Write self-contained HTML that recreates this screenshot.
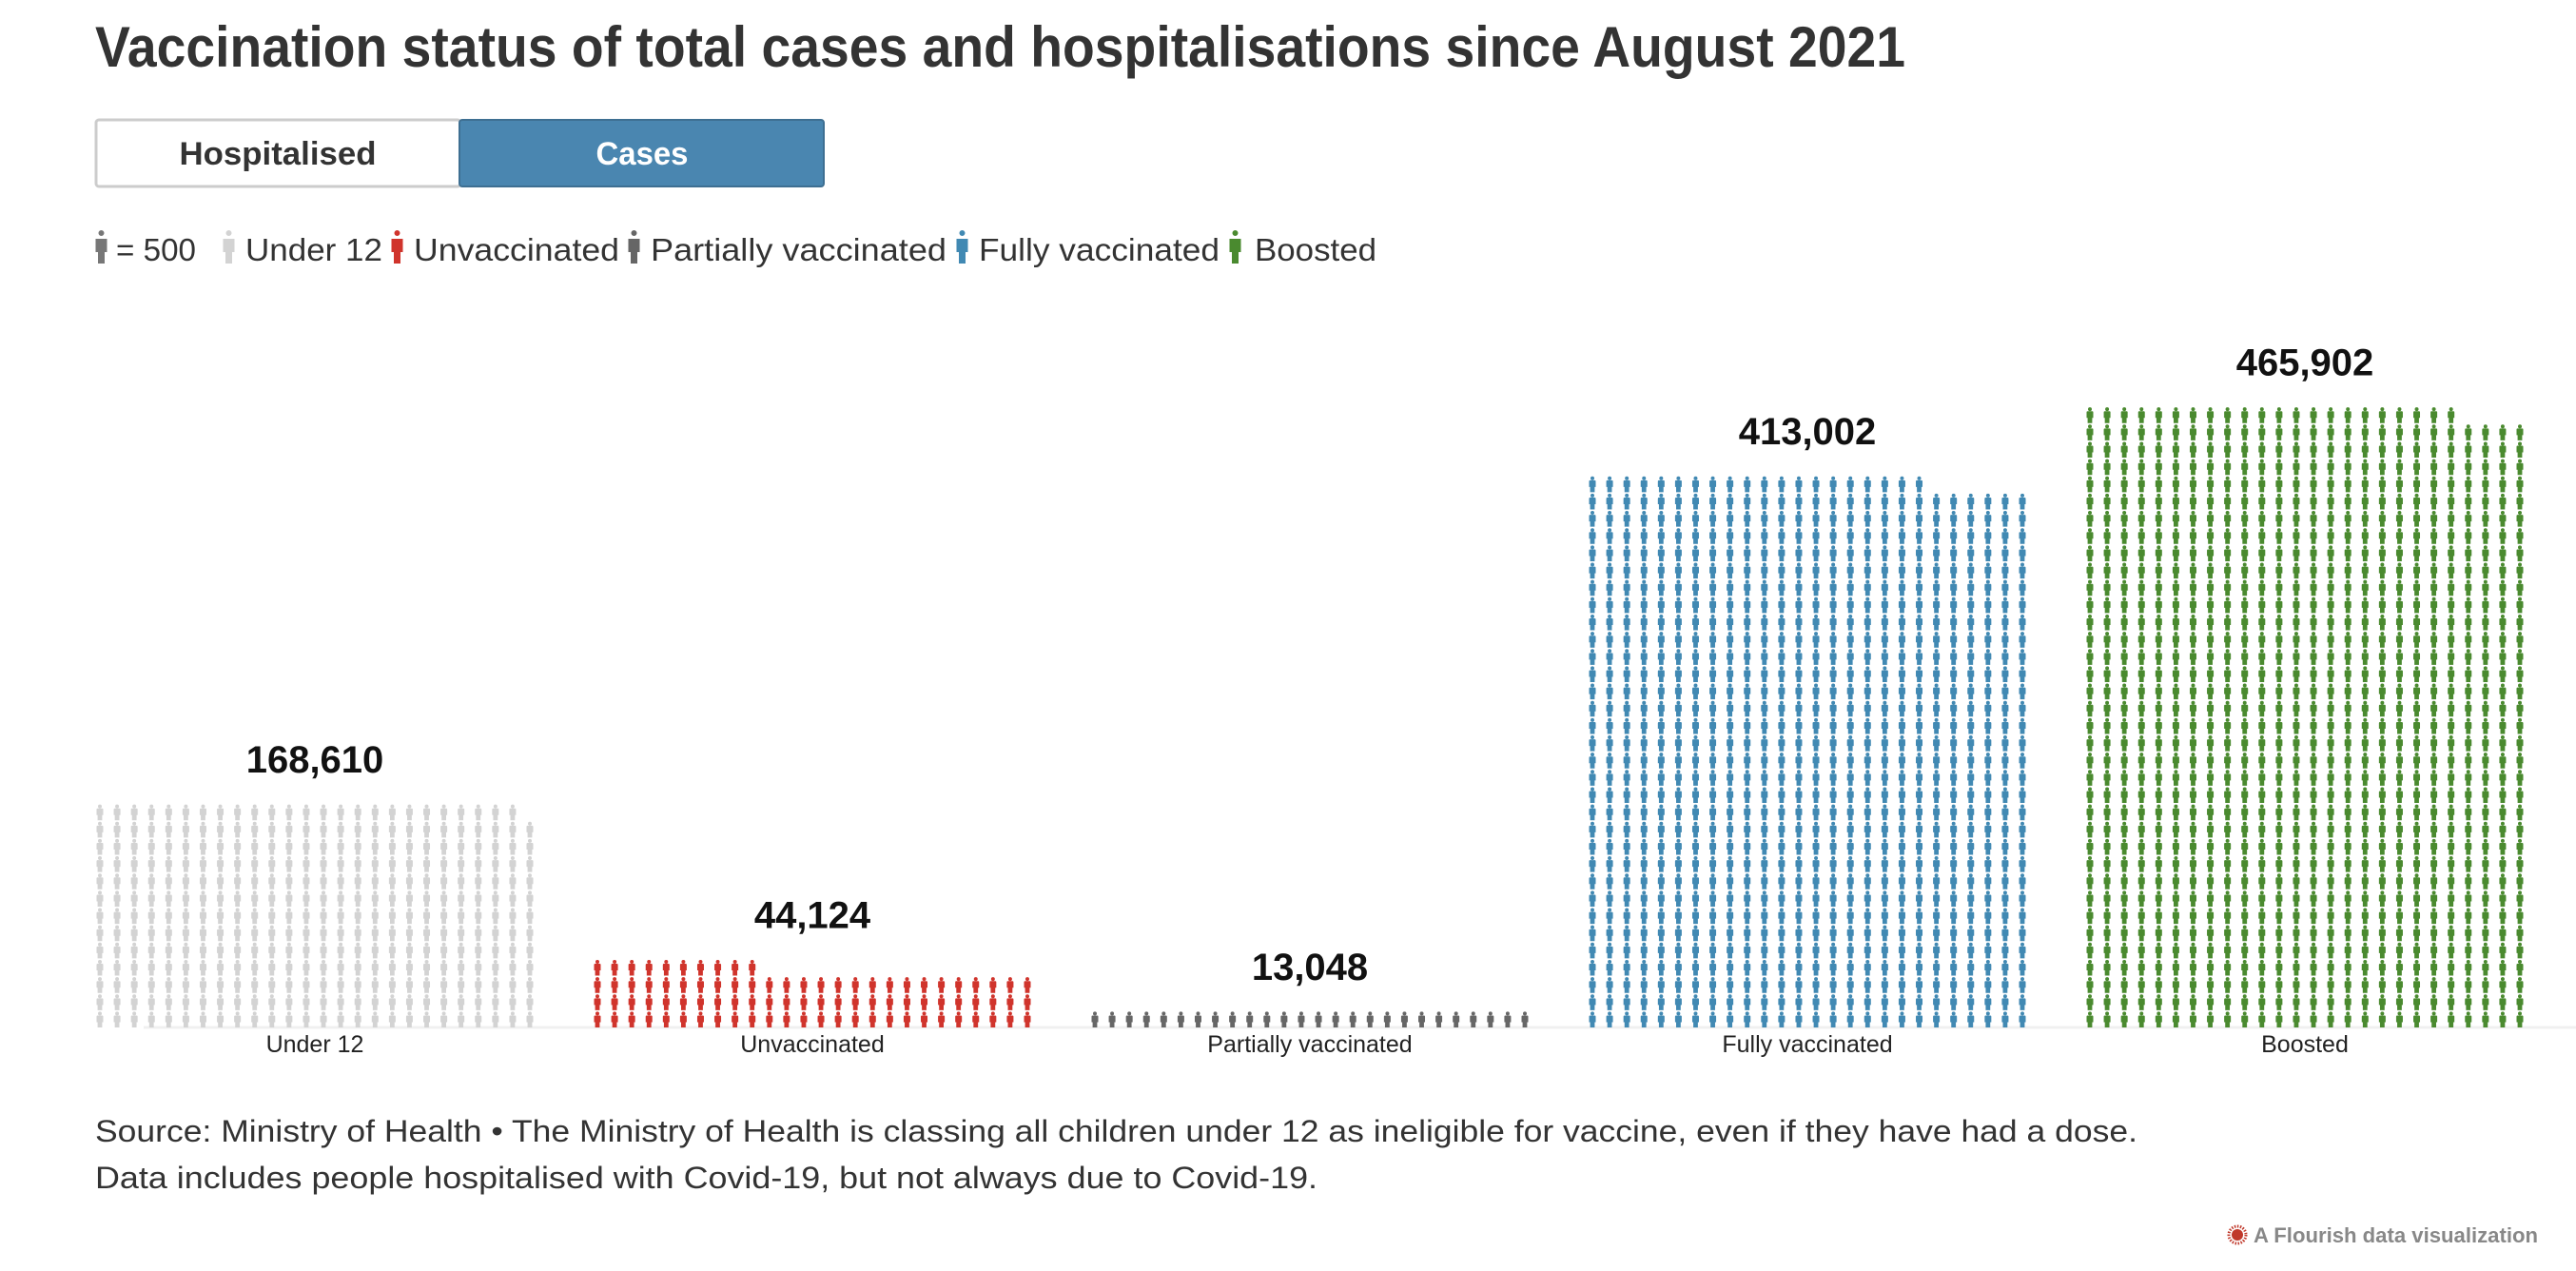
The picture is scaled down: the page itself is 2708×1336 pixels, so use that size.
<!DOCTYPE html>
<html><head><meta charset="utf-8"><style>
html,body{margin:0;padding:0;background:#fff;}
svg{display:block;font-family:"Liberation Sans",sans-serif;}
</style></head><body>
<svg id="chart" width="2708" height="1336" viewBox="0 0 2708 1336" xmlns="http://www.w3.org/2000/svg">
<text x="100" y="70" font-size="60" font-weight="bold" fill="#333" textLength="1903" lengthAdjust="spacingAndGlyphs">Vaccination status of total cases and hospitalisations since August 2021</text>
<g>
<rect x="101" y="126" width="383" height="70" rx="3" fill="#fff" stroke="#ccc" stroke-width="3"/>
<text x="292" y="173" font-size="34" font-weight="bold" fill="#333" text-anchor="middle" textLength="207" lengthAdjust="spacingAndGlyphs">Hospitalised</text>
</g>
<g>
<rect x="483" y="126" width="383" height="70" rx="3" fill="#4a86b0" stroke="#3e6f92" stroke-width="2"/>
<text x="675" y="173" font-size="34" font-weight="bold" fill="#fff" text-anchor="middle" textLength="97" lengthAdjust="spacingAndGlyphs">Cases</text>
</g>
<g id="legend"></g>
<line x1="151" y1="1080" x2="2708" y2="1080" stroke="#f0f0f0" stroke-width="3"/>
<g id="bars"></g>
<text x="100" y="1200" font-size="32" fill="#333" textLength="2147" lengthAdjust="spacingAndGlyphs">Source: Ministry of Health • The Ministry of Health is classing all children under 12 as ineligible for vaccine, even if they have had a dose.</text>
<text x="100" y="1249" font-size="32" fill="#333" textLength="1285" lengthAdjust="spacingAndGlyphs">Data includes people hospitalised with Covid-19, but not always due to Covid-19.</text>
<g>
<circle cx="2352" cy="1298" r="6" fill="#c0392b"/>
<circle cx="2352" cy="1298" r="9" fill="none" stroke="#c0392b" stroke-width="3" stroke-dasharray="1.5 1.5"/>
<text x="2369" y="1306" font-size="22" font-weight="bold" fill="#888" textLength="299" lengthAdjust="spacingAndGlyphs">A Flourish data visualization</text>
</g>
</svg>
<script>
const categories = ["Under 12","Unvaccinated","Partially vaccinated","Fully vaccinated","Boosted"];
const values = [168610, 44124, 13048, 413002, 465902];
const valueLabels = ["168,610","44,124","13,048","413,002","465,902"];
const colors = ["#d3d3d3","#d0342c","#666666","#4189b3","#4a8a2f"];
const perIcon = 500;

const NS = "http://www.w3.org/2000/svg";
const cols = 26, colGap = 18.08, rowH = 18.15, baseY = 1080;
const groupX = i => 105 + i * 523;
const rowY = r => baseY - r * rowH;

function iconPath(cx, b){
  return `M${cx-2.4},${b} v-5.5 h-1.1 v-6 q0,-1 1,-1 h5 q1,0 1,1 v6 h-1.1 v5.5 z`;
}
const bars = document.getElementById('bars');
categories.forEach((c, i) => {
  const n = Math.round(values[i] / perIcon);
  const g = document.createElementNS(NS, 'g');
  
  
  let d = "";
  for (let k = 0; k < n; k++) {
    const r = Math.floor(k / cols), col = k % cols;
    const cx = groupX(i) + col * colGap, b = rowY(r);
    d += iconPath(cx, b);
    d += `M${cx+2},${b-14.6} a2,2 0 1,0 -4,0 a2,2 0 1,0 4,0 z`;
  }
  const p = document.createElementNS(NS, 'path');
  p.setAttribute('d', d);
  p.setAttribute('fill', colors[i]);
  g.appendChild(p);
  bars.appendChild(g);
  const rows = Math.ceil(n / cols);
  const cxm = groupX(i) + (cols - 1) * colGap / 2;
  const t = document.createElementNS(NS, 'text');
  
  
  t.setAttribute('x', cxm);
  t.setAttribute('y', rowY(rows) - 32);
  t.setAttribute('text-anchor', 'middle');
  t.setAttribute('font-size', '40');
  t.setAttribute('font-weight', 'bold');
  t.setAttribute('fill', '#111');
  t.textContent = valueLabels[i];
  bars.appendChild(t);
  const l = document.createElementNS(NS, 'text');
  
  
  l.setAttribute('x', cxm);
  l.setAttribute('y', 1106);
  l.setAttribute('text-anchor', 'middle');
  l.setAttribute('font-size', '25');
  l.setAttribute('fill', '#222');
  l.textContent = c;
  bars.appendChild(l);
});

// legend
const legend = document.getElementById('legend');
const legItems = [
  {x:100, color:"#777", label:"= 500", tx:122, w:84},
  {x:234, color:"#d3d3d3", label:"Under 12", tx:258, w:144},
  {x:411, color:"#d0342c", label:"Unvaccinated", tx:435, w:216},
  {x:660, color:"#666", label:"Partially vaccinated", tx:684, w:311},
  {x:1005, color:"#4189b3", label:"Fully vaccinated", tx:1029, w:253},
  {x:1292, color:"#4a8a2f", label:"Boosted", tx:1319, w:128}
];
legItems.forEach(it => {
  const g = document.createElementNS(NS, 'g');
  
  
  const cx = it.x + 6.5;
  const p = document.createElementNS(NS, 'path');
  p.setAttribute('d', `M${cx+3},245 a3,3 0 1,0 -6,0 a3,3 0 1,0 6,0 z M${cx-6},251 h12 v14 h-2.5 v12 h-7 v-12 h-2.5 z`);
  p.setAttribute('fill', it.color);
  g.appendChild(p);
  const t = document.createElementNS(NS, 'text');
  t.setAttribute('x', it.tx);
  t.setAttribute('y', 274);
  t.setAttribute('font-size', '33');
  t.setAttribute('fill', '#333');
  t.setAttribute('textLength', it.w);
  t.setAttribute('lengthAdjust', 'spacingAndGlyphs');
  t.textContent = it.label;
  g.appendChild(t);
  legend.appendChild(g);
});
</script>
</body></html>
